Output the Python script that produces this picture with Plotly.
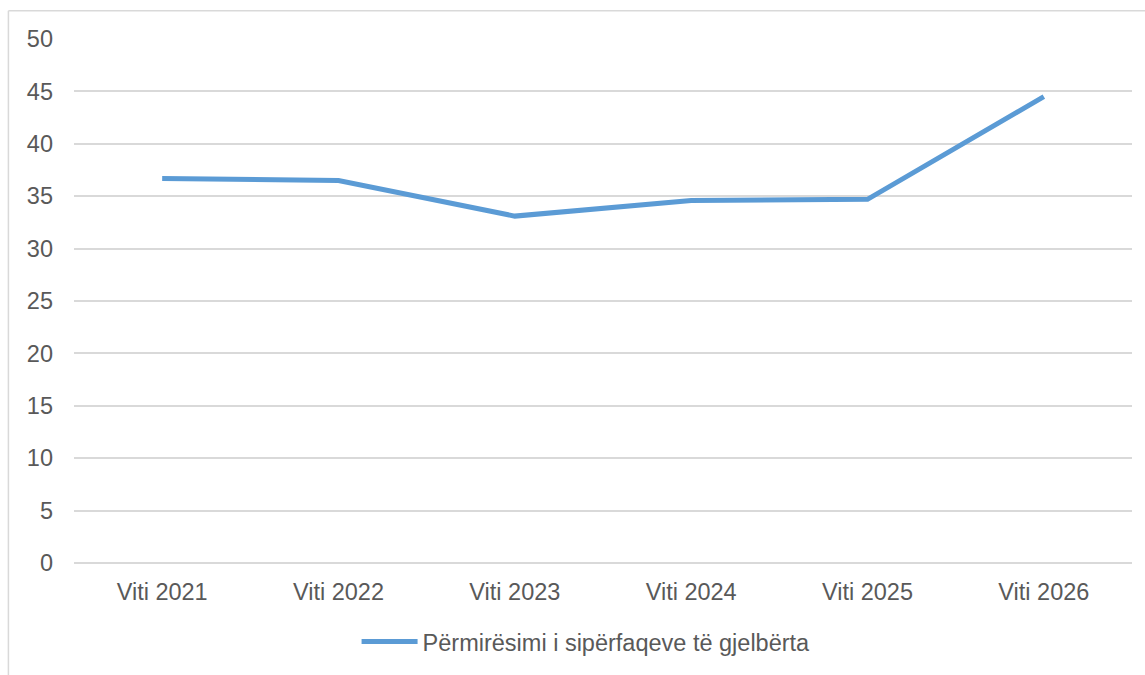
import plotly.graph_objects as go

categories = ["Viti 2021", "Viti 2022", "Viti 2023", "Viti 2024", "Viti 2025", "Viti 2026"]
values = [36.7, 36.5, 33.1, 34.6, 34.7, 44.5]
series_name = "Përmirësimi i sipërfaqeve të gjelbërta"
y_ticks = [0, 5, 10, 15, 20, 25, 30, 35, 40, 45, 50]

fig = go.Figure()
fig.add_trace(go.Scatter(
    x=categories, y=values, mode="lines", name=series_name,
    line=dict(color="#5B9BD5", width=5),
))

font = dict(family="Liberation Sans, Arial, sans-serif", size=23.5, color="#595959")

fig.update_layout(
    width=1145, height=675,
    margin=dict(l=74, r=13, t=39, b=110.5),
    paper_bgcolor="white", plot_bgcolor="white",
    font=font,
    showlegend=True,
    legend=dict(orientation="h", x=0.484, xanchor="center", y=-0.148, yanchor="middle",
                font=font, bgcolor="rgba(0,0,0,0)", itemwidth=56),
    xaxis=dict(type="category", range=[-0.5, 5.5], showgrid=False, showline=False,
               zeroline=False, ticks="", ticklabelstandoff=12, tickfont=font),
    yaxis=dict(range=[0, 50], tickvals=y_ticks, showgrid=True, gridcolor="#D9D9D9",
               gridwidth=1.5, zeroline=True, zerolinecolor="#D9D9D9", zerolinewidth=1.5,
               showline=False, ticks="", ticklabelstandoff=20, tickfont=font),
    shapes=[
        dict(type="line", xref="paper", yref="paper", x0=-0.062, x1=1.2, y0=1.054, y1=1.054,
             line=dict(color="#D9D9D9", width=1.5)),
        dict(type="line", xref="paper", yref="paper", x0=-0.062, x1=-0.062, y0=-0.3, y1=1.054,
             line=dict(color="#D9D9D9", width=1.5)),
    ],
)

fig.write_html(
    "out.html",
    config={"displayModeBar": False},
    post_script="document.body.style.margin='0';document.body.style.overflow='hidden';",
)
